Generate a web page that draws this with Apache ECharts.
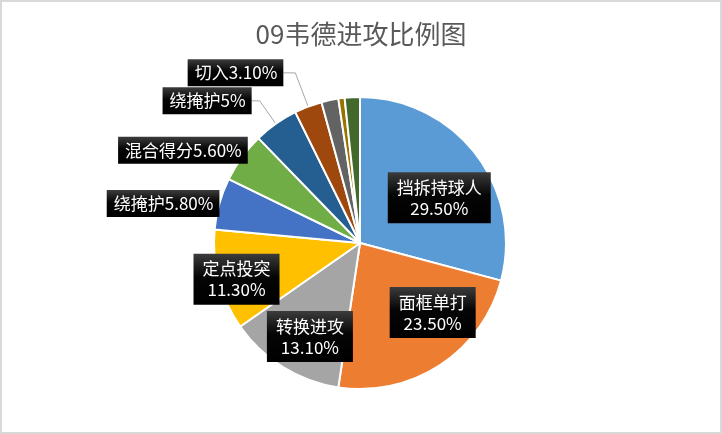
<!DOCTYPE html>
<html>
<head>
<meta charset="utf-8">
<script src="https://cdn.jsdelivr.net/npm/echarts@6/dist/echarts.min.js"></script>
<style>
html,body{margin:0;padding:0;background:#fff;}
#wrap{position:relative;width:722px;height:434px;}
#chart{position:absolute;left:0;top:0;width:722px;height:434px;}
#frame{position:absolute;left:0;top:0;width:722px;height:434px;box-sizing:border-box;border:2px solid #d9d9d9;pointer-events:none;}
</style>
</head>
<body>
<div id="wrap"><div id="chart"></div><div id="frame"></div></div>
<script>
var titleText = '09韦德进攻比例图';
var categories = ['挡拆持球人', '面框单打', '转换进攻', '定点投突', '绕掩护', '混合得分', '绕掩护', '切入', '其他1', '其他2', '其他3'];
var values = [29.5, 23.5, 13.1, 11.3, 5.8, 5.6, 5.0, 3.1, 1.9, 0.7, 1.7];
var valueLabels = ['29.50%', '23.50%', '13.10%', '11.30%', '5.80%', '5.60%', '5%', '3.10%', '', '', ''];
var colors = ['#5B9BD5', '#ED7D31', '#A5A5A5', '#FFC000', '#4472C4', '#70AD47', '#255E91', '#9E480E', '#636363', '#997300', '#43682B'];

var chart = echarts.init(document.getElementById('chart'));
var boxBg = new echarts.graphic.LinearGradient(0, 0, 0, 1, [
  {offset: 0, color: '#3c3c3c'},
  {offset: 0.45, color: '#050505'},
  {offset: 1, color: '#000000'}
]);
// label placement style per slice: inside two-line, outside one-line, or hidden
var insideCount = 4;
var nudges = {0: [19, 1], 1: [31, 6], 2: [-10, 29], 3: [-50, 17], 5: [6, -7]};
var lineLens = {4: [0, 0, false], 5: [0, 0, false], 6: [28, 8, true], 7: [36, 12, true]};

var data = categories.map(function (name, i) {
  var item = {name: name, value: values[i], itemStyle: {color: colors[i]}};
  if (i < insideCount) {
    item.label = {show: true, position: 'inside', formatter: name + '\n' + valueLabels[i],
      padding: [5, 9, 4, 9], lineHeight: 21};
    item.labelLine = {show: false};
  } else if (valueLabels[i]) {
    var ll = lineLens[i];
    item.label = {show: true, position: 'outside', formatter: name + valueLabels[i],
      padding: [4, 6, 3, 7], lineHeight: 20, distanceToLabelLine: 0};
    item.labelLine = {show: ll[2], length: ll[0], length2: ll[1],
      lineStyle: {color: '#a6a6a6', width: 1}};
  } else {
    item.label = {show: false};
    item.labelLine = {show: false};
  }
  return item;
});

chart.setOption({
  animation: false,
  title: {
    text: titleText, left: 'center', top: 16,
    textStyle: {color: '#595959', fontSize: 26, fontWeight: 'normal', fontFamily: 'Noto Sans CJK SC'}
  },
  series: [{
    type: 'pie',
    center: [360, 243],
    radius: 146,
    startAngle: 90,
    clockwise: true,
    avoidLabelOverlap: false,
    emphasis: {disabled: true},
    itemStyle: {borderColor: '#ffffff', borderWidth: 2},
    label: {
      color: '#ffffff', fontSize: 17, fontFamily: 'Noto Sans CJK SC',
      backgroundColor: boxBg
    },
    labelLayout: function (p) {
      var n = nudges[p.dataIndex];
      return n ? {dx: n[0], dy: n[1]} : {};
    },
    data: data
  }]
});
</script>
</body>
</html>
